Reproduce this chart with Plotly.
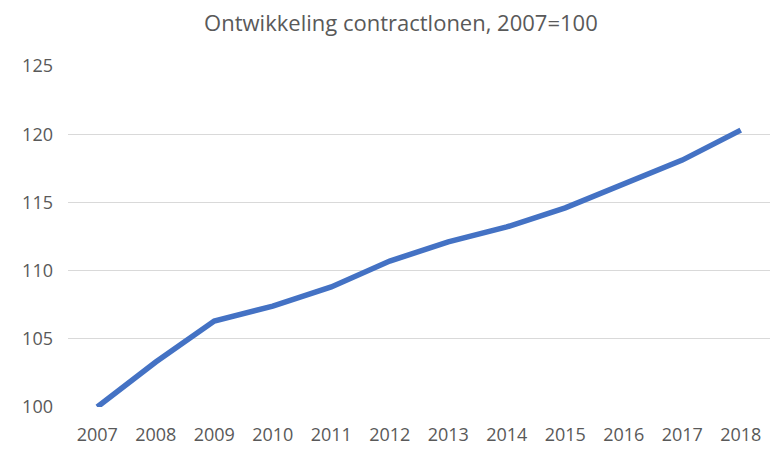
import plotly.graph_objects as go

years = ["2007", "2008", "2009", "2010", "2011", "2012", "2013", "2014", "2015", "2016", "2017", "2018"]
values = [100.0, 103.3, 106.3, 107.4, 108.8, 110.7, 112.1, 113.2, 114.6, 116.4, 118.1, 120.3]
y_ticks = [100, 105, 110, 115, 120, 125]

fig = go.Figure()
fig.add_trace(go.Scatter(
    x=list(range(len(years))), y=values, mode="lines",
    line=dict(color="#4472C4", width=5.5),
    showlegend=False, hoverinfo="skip",
))

fig.update_layout(
    width=772, height=441,
    margin=dict(l=60, r=10, t=58, b=42),
    paper_bgcolor="white", plot_bgcolor="white",
    title=dict(text="Ontwikkeling contractlonen, 2007=100",
               x=0.509, xanchor="center", y=0.966, yanchor="middle",
               font=dict(family="Open Sans", size=22, color="#595959")),
    font=dict(family="Open Sans", size=18, color="#595959"),
    xaxis=dict(
        tickmode="array", tickvals=list(range(len(years))), ticktext=years,
        range=[-0.5, len(years) - 0.5], showgrid=False, zeroline=False,
        showline=False, ticks="", ticklabelstandoff=15, automargin=False,
    ),
    yaxis=dict(
        tickmode="array", tickvals=y_ticks, ticktext=[str(v) for v in y_ticks],
        range=[100, 125], showgrid=True, gridcolor="#d9d9d9", gridwidth=1.3,
        zeroline=False, showline=False, ticks="", ticklabelstandoff=14,
        automargin=False,
    ),
)

fig.write_html("out.html")
